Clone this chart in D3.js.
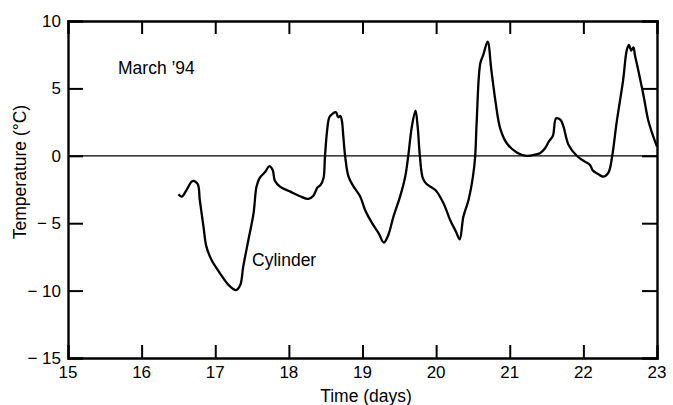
<!DOCTYPE html>
<html>
<head>
<meta charset="utf-8">
<script src="https://cdn.jsdelivr.net/npm/d3@7"></script>
<style>
  body { margin: 0; background: #fff; }
  text { font-family: "Liberation Sans", Arial, Helvetica, sans-serif; fill: #000; }
</style>
</head>
<body>
<div id="chart"></div>
<script>
(function(d3) {
  'use strict';

  // data
  var days = [16.50, 16.545, 16.61, 16.69, 16.76, 16.79, 16.84, 16.88, 16.95, 17.065,
    17.18, 17.28, 17.34, 17.38, 17.45, 17.52, 17.56, 17.60, 17.68, 17.735,
    17.78, 17.81, 17.88, 18.02, 18.15, 18.265, 18.33, 18.39, 18.43, 18.47,
    18.49, 18.52, 18.55, 18.60, 18.64, 18.67, 18.70, 18.72, 18.74, 18.765,
    18.81, 18.88, 18.97, 19.035, 19.13, 19.22, 19.29, 19.35, 19.42, 19.51,
    19.58, 19.62, 19.67, 19.72, 19.75, 19.78, 19.82, 19.87, 19.99, 20.10,
    20.19, 20.27, 20.32, 20.37, 20.44, 20.50, 20.53, 20.55, 20.60, 20.64,
    20.70, 20.75, 20.81, 20.87, 20.96, 21.10, 21.23, 21.37, 21.41, 21.48,
    21.53, 21.585, 21.63, 21.69, 21.73, 21.80, 21.91, 22.02, 22.09, 22.13,
    22.20, 22.27, 22.34, 22.39, 22.45, 22.54, 22.59, 22.62, 22.65, 22.68,
    22.70, 22.75, 22.82, 22.88, 22.95, 23.0];
  var temps = [-2.85, -3.03, -2.54, -1.87, -2.09, -3.28, -5.26, -6.74, -7.73, -8.72,
    -9.58, -9.96, -9.58, -8.22, -6.25, -4.27, -2.29, -1.67, -1.18, -0.76,
    -1.05, -1.85, -2.29, -2.66, -3.0, -3.2, -2.98, -2.34, -2.17, -1.67,
    -0.07, 1.91, 2.86, 3.15, 3.23, 2.86, 2.95, 2.6, 1.42, -0.07,
    -1.55, -2.29, -3.03, -4.02, -5.0, -5.75, -6.44, -5.88, -4.52, -3.03,
    -1.55, -0.07, 2.16, 3.35, 2.1, -0.07, -1.67, -2.09, -2.54, -3.52,
    -4.76, -5.63, -6.2, -4.52, -3.28, -1.55, -0.07, 2.41, 6.86, 7.48,
    8.46, 6.36, 3.89, 2.04, 0.93, 0.23, -0.01, 0.13, 0.19, 0.56,
    1.05, 1.47, 2.78, 2.66, 2.16, 0.8, 0, -0.43, -0.68, -1.1,
    -1.35, -1.55, -1.25, -0.07, 2.41, 5.62, 7.85, 8.22, 7.8, 8.05,
    7.48, 6.24, 4.38, 2.66, 1.42, 0.68];

  var xTicks = [15, 16, 17, 18, 19, 20, 21, 22, 23];
  var yTicks = [10, 5, 0, -5, -10, -15];

  var width = 673;
  var height = 405;
  var margin = {top: 21, right: 16, bottom: 47, left: 68};
  var w = width - margin.left - margin.right;
  var h = height - margin.top - margin.bottom;

  var svg = d3.select('#chart')
    .append('svg')
    .attr('width', width)
    .attr('height', height)
    .append('g')
    .attr('transform', 'translate(' + margin.left + ',' + margin.top + ')');

  var x = d3.scaleLinear().domain([15, 23]).range([0, w]);
  var y = d3.scaleLinear().domain([-15, 10]).range([h, 0]);

  function yFmt(d) {
    return d < 0 ? '\u2212 ' + Math.abs(d) : String(d);
  }

  var inner = xTicks.slice(1, -1);
  var innerY = yTicks.slice(1, -1);

  // zero line
  svg.append('line')
    .attr('x1', 0).attr('x2', w)
    .attr('y1', y(0)).attr('y2', y(0))
    .attr('stroke', '#000')
    .attr('stroke-width', 1.3);

  // frame with inward ticks
  svg.append('g').attr('class', 'axis')
    .attr('transform', 'translate(0,' + h + ')')
    .call(d3.axisBottom(x).tickValues(inner).tickSize(-13).tickFormat(''));
  svg.append('g').attr('class', 'axis')
    .call(d3.axisTop(x).tickValues(inner).tickSize(-13).tickFormat(''));
  svg.append('g').attr('class', 'axis')
    .call(d3.axisLeft(y).tickValues(innerY).tickSize(-15).tickFormat(''));
  svg.append('g').attr('class', 'axis')
    .attr('transform', 'translate(' + w + ',0)')
    .call(d3.axisRight(y).tickValues(innerY).tickSize(-15).tickFormat(''));

  svg.selectAll('.axis path.domain').attr('stroke', '#000').attr('stroke-width', 2.4);
  svg.selectAll('.axis .tick line').attr('stroke', '#000').attr('stroke-width', 2);

  // tick labels
  svg.selectAll('.xlab')
    .data(xTicks)
    .enter()
    .append('text')
    .attr('class', 'xlab')
    .attr('x', function(d){ return x(d); })
    .attr('y', h + 20)
    .attr('text-anchor', 'middle')
    .style('font-size', '17px')
    .text(function(d){ return d; });

  svg.selectAll('.ylab')
    .data(yTicks)
    .enter()
    .append('text')
    .attr('class', 'ylab')
    .attr('x', -7)
    .attr('y', function(d){ return y(d) + 6; })
    .attr('text-anchor', 'end')
    .style('font-size', '17px')
    .text(yFmt);

  // titles and notes
  svg.append('text')
    .attr('x', 366 - margin.left)
    .attr('y', 402 - margin.top)
    .attr('text-anchor', 'middle')
    .style('font-size', '17.5px')
    .text('Time (days)');

  svg.append('text')
    .attr('transform', 'translate(' + (26 - margin.left) + ',' + (172 - margin.top) + ') rotate(-90)')
    .attr('text-anchor', 'middle')
    .style('font-size', '17.5px')
    .text('Temperature (\u00B0C)');

  svg.append('text')
    .attr('x', 118 - margin.left)
    .attr('y', 74 - margin.top)
    .style('font-size', '17.5px')
    .text('March \u201994');

  svg.append('text')
    .attr('x', 252 - margin.left)
    .attr('y', 266 - margin.top)
    .style('font-size', '17.5px')
    .text('Cylinder');

  // temperature curve
  var line = d3.line()
    .x(function(d){ return x(d[0]); })
    .y(function(d){ return y(d[1]); })
    .curve(d3.curveCatmullRom.alpha(0.5));

  svg.append('path')
    .datum(d3.zip(days, temps))
    .attr('d', line)
    .attr('fill', 'none')
    .attr('stroke', '#000')
    .attr('stroke-width', 2.3)
    .attr('stroke-linejoin', 'round');

})(window.d3);
</script>
</body>
</html>
